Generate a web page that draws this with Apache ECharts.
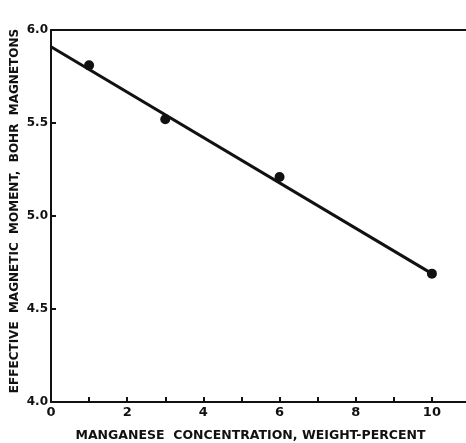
<!DOCTYPE html>
<html><head><meta charset="utf-8">
<script src="https://cdn.jsdelivr.net/npm/echarts@6/dist/echarts.min.js"></script>
<style>html,body{margin:0;padding:0;background:#fff}#c{width:466px;height:443px}</style>
</head><body><div id="c"></div>
<script>
var mnConcentration = [1, 3, 6, 10];
var effectiveMoment = [5.81, 5.52, 5.21, 4.69];
var fitLineX = [0, 10];
var fitLineY = [5.91, 4.69];
var xTicks = [0, 2, 4, 6, 8, 10];
var yTicks = [4.0, 4.5, 5.0, 5.5, 6.0];

var FONT = 'DejaVu Sans';
var chart = echarts.init(document.getElementById('c'), null, {renderer: 'canvas'});
chart.setOption({
  animation: false,
  backgroundColor: '#fff',
  grid: {left: 51, top: 30, right: -4, bottom: 41, outerBoundsMode: 'none', containLabel: false},
  xAxis: [{
    type: 'value', min: 0, max: 11, interval: 1,
    name: 'MANGANESE  CONCENTRATION, WEIGHT-PERCENT',
    nameLocation: 'middle', nameGap: 27,
    nameTextStyle: {fontFamily: FONT, fontWeight: 'bold', fontSize: 12.5, color: '#111', padding: [0, 20, 0, 0]},
    axisLine: {show: true, lineStyle: {color: '#111', width: 2}},
    axisTick: {show: true, inside: true, length: 5, lineStyle: {color: '#111', width: 2}},
    splitLine: {show: false},
    axisLabel: {fontFamily: FONT, fontWeight: 'bold', fontSize: 13, color: '#111', margin: 4,
      formatter: function (v) { return xTicks.indexOf(v) >= 0 ? String(v) : ''; }}
  }, {
    type: 'value', position: 'top', min: 0, max: 11,
    axisLine: {show: true, onZero: false, lineStyle: {color: '#111', width: 2}},
    axisTick: {show: false}, axisLabel: {show: false}, splitLine: {show: false}
  }],
  yAxis: {
    type: 'value', min: 4, max: 6, interval: 0.5,
    name: 'EFFECTIVE  MAGNETIC  MOMENT,  BOHR  MAGNETONS',
    nameLocation: 'middle', nameGap: 30, nameMoveOverlap: false,
    nameTextStyle: {fontFamily: FONT, fontWeight: 'bold', fontSize: 12, color: '#111', padding: [0, 0, 0, 10]},
    axisLine: {show: true, lineStyle: {color: '#111', width: 2}},
    axisTick: {show: true, inside: true, length: 5, lineStyle: {color: '#111', width: 2}},
    splitLine: {show: false},
    axisLabel: {fontFamily: FONT, fontWeight: 'bold', fontSize: 12, color: '#111', margin: 3,
      formatter: function (v) { return yTicks.indexOf(v) >= 0 ? v.toFixed(1) : ''; }}
  },
  series: [{
    type: 'line', xAxisIndex: 0,
    data: fitLineX.map(function (x, i) { return [x, fitLineY[i]]; }),
    showSymbol: false, symbol: 'none',
    lineStyle: {color: '#111', width: 3}
  }, {
    type: 'scatter', xAxisIndex: 0,
    data: mnConcentration.map(function (x, i) { return [x, effectiveMoment[i]]; }),
    symbol: 'circle', symbolSize: 10,
    itemStyle: {color: '#111', opacity: 1}
  }]
});
</script></body></html>
